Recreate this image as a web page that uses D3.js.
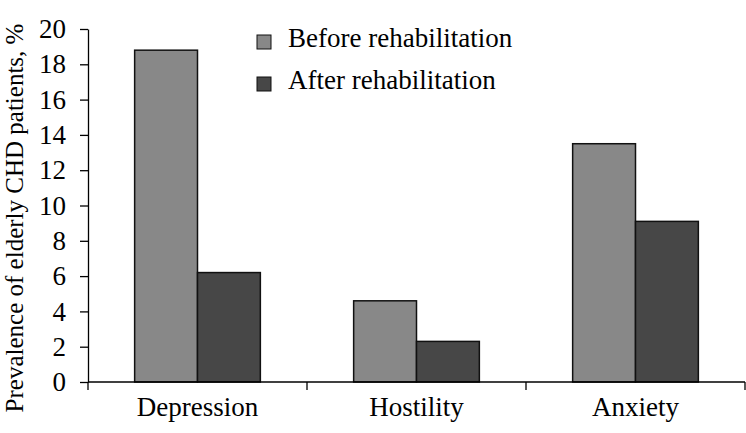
<!DOCTYPE html>
<html>
<head>
<meta charset="utf-8">
<script src="https://cdn.jsdelivr.net/npm/d3@7"></script>
<style>
  body { margin: 0; background: white; }
  text { font-family: "Liberation Serif", "Times New Roman", serif; }
</style>
</head>
<body>
<div id="chart"></div>
<script>
// Categories and series values
const categories = ["Depression", "Hostility", "Anxiety"];
const seriesNames = ["Before rehabilitation", "After rehabilitation"];
const beforeValues = [18.8, 4.6, 13.5];
const afterValues = [6.2, 2.3, 9.1];
const yTicks = [0, 2, 4, 6, 8, 10, 12, 14, 16, 18, 20];

let width = 746,
    height = 433;

let margin = {
  top: 29,
  bottom: 51,
  left: 88,
  right: 1
};

const fs = '27px';
const fills = ["#888888", "#474747"];

let svg = d3.select('#chart')
            .append('svg')
            .attr('width', width)
            .attr('height', height)
            .style('background', 'white');

// Scale x0 for categories, x1 for before/after inside each band
const x0 = d3.scaleBand()
             .domain(categories)
             .range([margin.left, width - margin.right]);

const x1 = d3.scaleBand()
             .domain(seriesNames)
             .range([x0.bandwidth() * 0.213, x0.bandwidth() * 0.787]);

const y = d3.scaleLinear()
            .domain([0, 20])
            .range([height - margin.bottom, margin.top]);

const color = d3.scaleOrdinal()
                .domain(seriesNames)
                .range(fills);

const data = categories.map((c, i) => ({
  cat: c,
  values: [
    { series: seriesNames[0], value: beforeValues[i] },
    { series: seriesNames[1], value: afterValues[i] }
  ]
}));

// Y axis
let yaxis = svg.append('g')
               .attr('transform', `translate(${margin.left},0)`)
               .call(d3.axisLeft(y).tickValues(yTicks).tickSize(8).tickSizeOuter(0).tickPadding(14));

yaxis.attr('font-size', fs).attr('font-family', '"Liberation Serif", serif');
yaxis.selectAll('text').attr('fill', '#000');
yaxis.selectAll('line, path').attr('stroke', '#000').attr('stroke-width', 1.3);

// Bars
const barGroups = svg.selectAll('.bar-group')
    .data(data)
    .enter()
    .append('g')
    .attr('class', 'bar-group')
    .attr('transform', d => `translate(${x0(d.cat)},0)`);

barGroups.selectAll('rect')
    .data(d => d.values)
    .enter()
    .append('rect')
    .attr('x', d => x1(d.series))
    .attr('y', d => y(d.value))
    .attr('width', x1.bandwidth())
    .attr('height', d => y(0) - y(d.value))
    .attr('fill', d => color(d.series))
    .attr('stroke', '#111')
    .attr('stroke-width', 1.5);

// X axis with ticks between categories
let xaxis = svg.append('g')
               .attr('transform', `translate(0, ${height - margin.bottom})`);

xaxis.append('line')
     .attr('x1', margin.left)
     .attr('x2', width - margin.right)
     .attr('stroke', '#000')
     .attr('stroke-width', 1.3);

const boundaries = categories.map(c => x0(c) + x0.bandwidth()).concat([x0(categories[0])]);
xaxis.selectAll('.sep')
     .data(boundaries)
     .enter()
     .append('line')
     .attr('x1', d => d)
     .attr('x2', d => d)
     .attr('y1', 0)
     .attr('y2', 8)
     .attr('stroke', '#000')
     .attr('stroke-width', 1.3);

xaxis.selectAll('.cat')
     .data(categories)
     .enter()
     .append('text')
     .attr('x', d => x0(d) + x0.bandwidth() / 2)
     .attr('y', 34)
     .attr('text-anchor', 'middle')
     .attr('font-size', fs)
     .attr('fill', '#000')
     .text(d => d);

// Y axis title
svg.append('text')
   .attr('transform', 'rotate(-90)')
   .attr('x', -218)
   .attr('y', 23)
   .attr('text-anchor', 'middle')
   .attr('font-size', '25px')
   .attr('fill', '#000')
   .text('Prevalence of elderly CHD patients, %');

// Legend
const legend = svg.append('g')
                  .attr('transform', 'translate(257, 35)');

seriesNames.forEach((s, i) => {
  legend.append('rect')
        .attr('x', 0)
        .attr('y', i * 42)
        .attr('width', 14)
        .attr('height', 14)
        .attr('fill', color(s))
        .attr('stroke', '#111')
        .attr('stroke-width', 1);

  legend.append('text')
        .attr('x', 31)
        .attr('y', i * 42 + 12)
        .attr('font-size', fs)
        .attr('fill', '#000')
        .text(s);
});
</script>
</body>
</html>
